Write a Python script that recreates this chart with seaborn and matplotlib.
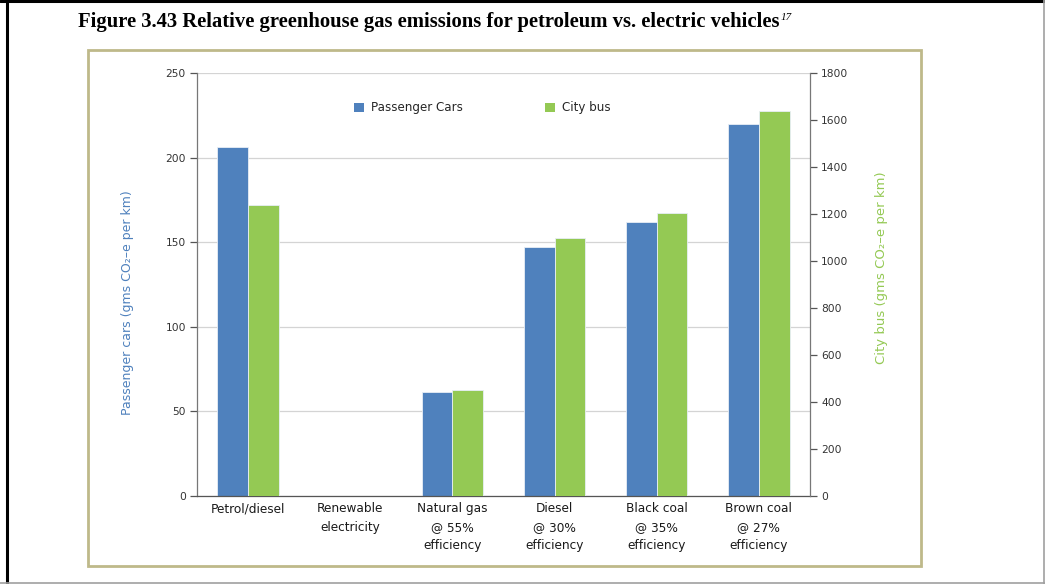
import matplotlib
matplotlib.use("Agg")
import matplotlib.pyplot as plt
from matplotlib.patches import Patch, Rectangle
from matplotlib.lines import Line2D
from matplotlib.ticker import FixedLocator, NullFormatter
import pandas as pd
import seaborn as sns

# ---- data ----
categories = [
    "Petrol/diesel",
    "Renewable\nelectricity",
    "Natural gas\n@ 55%\nefficiency",
    "Diesel\n@ 30%\nefficiency",
    "Black coal\n@ 35%\nefficiency",
    "Brown coal\n@ 27%\nefficiency",
]
series = ["Passenger Cars", "City bus"]
car_values = [206, 0, 61.5, 147, 162, 220]          # gms CO2-e per km
bus_values = [1240, 0, 450, 1100, 1205, 1640]       # gms CO2-e per km
left_ticks = [0, 50, 100, 150, 200, 250]
right_ticks = [0, 200, 400, 600, 800, 1000, 1200, 1400, 1600, 1800]

title = "Figure 3.43 Relative greenhouse gas emissions for petroleum vs. electric vehicles"
footnote = "17"
left_label = "Passenger cars (gms CO\u2082\u2013e per km)"
right_label = "City bus (gms CO\u2082\u2013e per km)"

BLUE = "#4F81BD"
GREEN = "#94C954"
palette = {series[0]: BLUE, series[1]: GREEN}

cars = pd.DataFrame({"category": categories, "value": car_values, "series": series[0]})
buses = pd.DataFrame({"category": categories, "value": bus_values, "series": series[1]})

sns.set_style("white")
plt.rcParams["font.family"] = ["DejaVu Sans"]

W, H = 1045, 584
fig = plt.figure(figsize=(W / 100, H / 100), dpi=100)


def fx(px):
    return px / W


def fy(py):
    return 1 - py / H


# page borders and chart frame
fig.add_artist(Line2D([fx(7), fx(7)], [fy(0), fy(584)], color="black", lw=2.2))
fig.add_artist(Line2D([0, 1], [fy(1), fy(1)], color="black", lw=2.2))
fig.add_artist(Line2D([fx(1043.5), fx(1043.5)], [0, 1], color="#a0a0a0", lw=1.2))
fig.add_artist(Line2D([0, 1], [fy(582.5), fy(582.5)], color="#a0a0a0", lw=1.2))
fig.add_artist(Rectangle((fx(88), fy(566)), fx(921) - fx(88), fy(50) - fy(566),
                         fill=False, edgecolor="#BEB98A", lw=2.0))

ax = fig.add_axes([fx(197), fy(496), fx(810) - fx(197), fy(73) - fy(496)])
ax2 = ax.twinx()

bar_kw = dict(x="category", y="value", hue="series", hue_order=series,
              palette=palette, width=0.6, dodge=True, errorbar=None,
              legend=False, edgecolor="#e8eef6", linewidth=0.6, saturation=1)
sns.barplot(data=cars, ax=ax, **bar_kw)
sns.barplot(data=buses, ax=ax2, **bar_kw)

for a in (ax, ax2):
    a.set_xlim(-0.5, len(categories) - 0.5)
    a.set_xlabel("")
    a.set_ylabel("")

ax.set_ylim(0, 250)
ax2.set_ylim(0, 1800)
ax.set_yticks(left_ticks)
ax2.set_yticks(right_ticks)
ax.grid(axis="y", color="#d4d4d4", lw=0.9)
ax.grid(axis="x", visible=False)
ax.set_axisbelow(True)
ax2.grid(False)

# category boundaries carry the tick marks, labels sit at the centres
ax.xaxis.set_major_locator(FixedLocator([i - 0.5 for i in range(len(categories) + 1)]))
ax.xaxis.set_major_formatter(NullFormatter())
ax.xaxis.set_minor_locator(FixedLocator(list(range(len(categories)))))
ax.set_xticklabels(categories, minor=True, fontsize=8.7, color="#1a1a1a", linespacing=1.55)
ax.tick_params(axis="x", which="major", length=6, width=0.9, color="#555555", direction="inout")
ax.tick_params(axis="x", which="minor", length=0, pad=4.5)
ax2.tick_params(axis="x", which="both", length=0, labelbottom=False)

ax.tick_params(axis="y", length=5, width=0.9, color="#555555", labelsize=7.7,
               labelcolor="#333333", pad=3, left=True)
ax2.tick_params(axis="y", length=5, width=0.9, color="#555555", labelsize=7.7,
                labelcolor="#333333", pad=3, right=True)

for a in (ax, ax2):
    a.spines["top"].set_visible(False)
    a.spines["left"].set_color("#777777")
    a.spines["right"].set_color("#777777")
    a.spines["bottom"].set_color("#555555")
    for s in a.spines.values():
        s.set_linewidth(0.9)
ax.spines["right"].set_visible(False)
ax2.spines["left"].set_visible(False)
ax2.spines["bottom"].set_visible(False)

# axis titles
fig.text(fx(128), fy(303), left_label, rotation=90, ha="center", va="center",
         fontsize=9, color=BLUE)
fig.text(fx(882), fy(268), right_label, rotation=90, ha="center", va="center",
         fontsize=9.5, color=GREEN)

# legend
handles = [Patch(facecolor=palette[s], edgecolor="none") for s in series]
fig.legend(handles, series, loc="center left", bbox_to_anchor=(fx(354), fy(108)),
           ncol=2, frameon=False, fontsize=8.6, handlelength=0.85, handleheight=0.85,
           handletextpad=0.55, columnspacing=6.9, borderpad=0, borderaxespad=0)

# figure title with superscript footnote mark
t = fig.text(fx(78), fy(22), title, ha="left", va="center", fontsize=14.9,
             fontweight="bold", family="Liberation Serif", color="black")
fig.canvas.draw()
bb = t.get_window_extent(renderer=fig.canvas.get_renderer())
fig.text(bb.x1 / W + fx(1), fy(17), footnote, ha="left", va="center", fontsize=8,
         style="italic", family="Liberation Serif", color="black")

fig.savefig("out.png", dpi=100)
